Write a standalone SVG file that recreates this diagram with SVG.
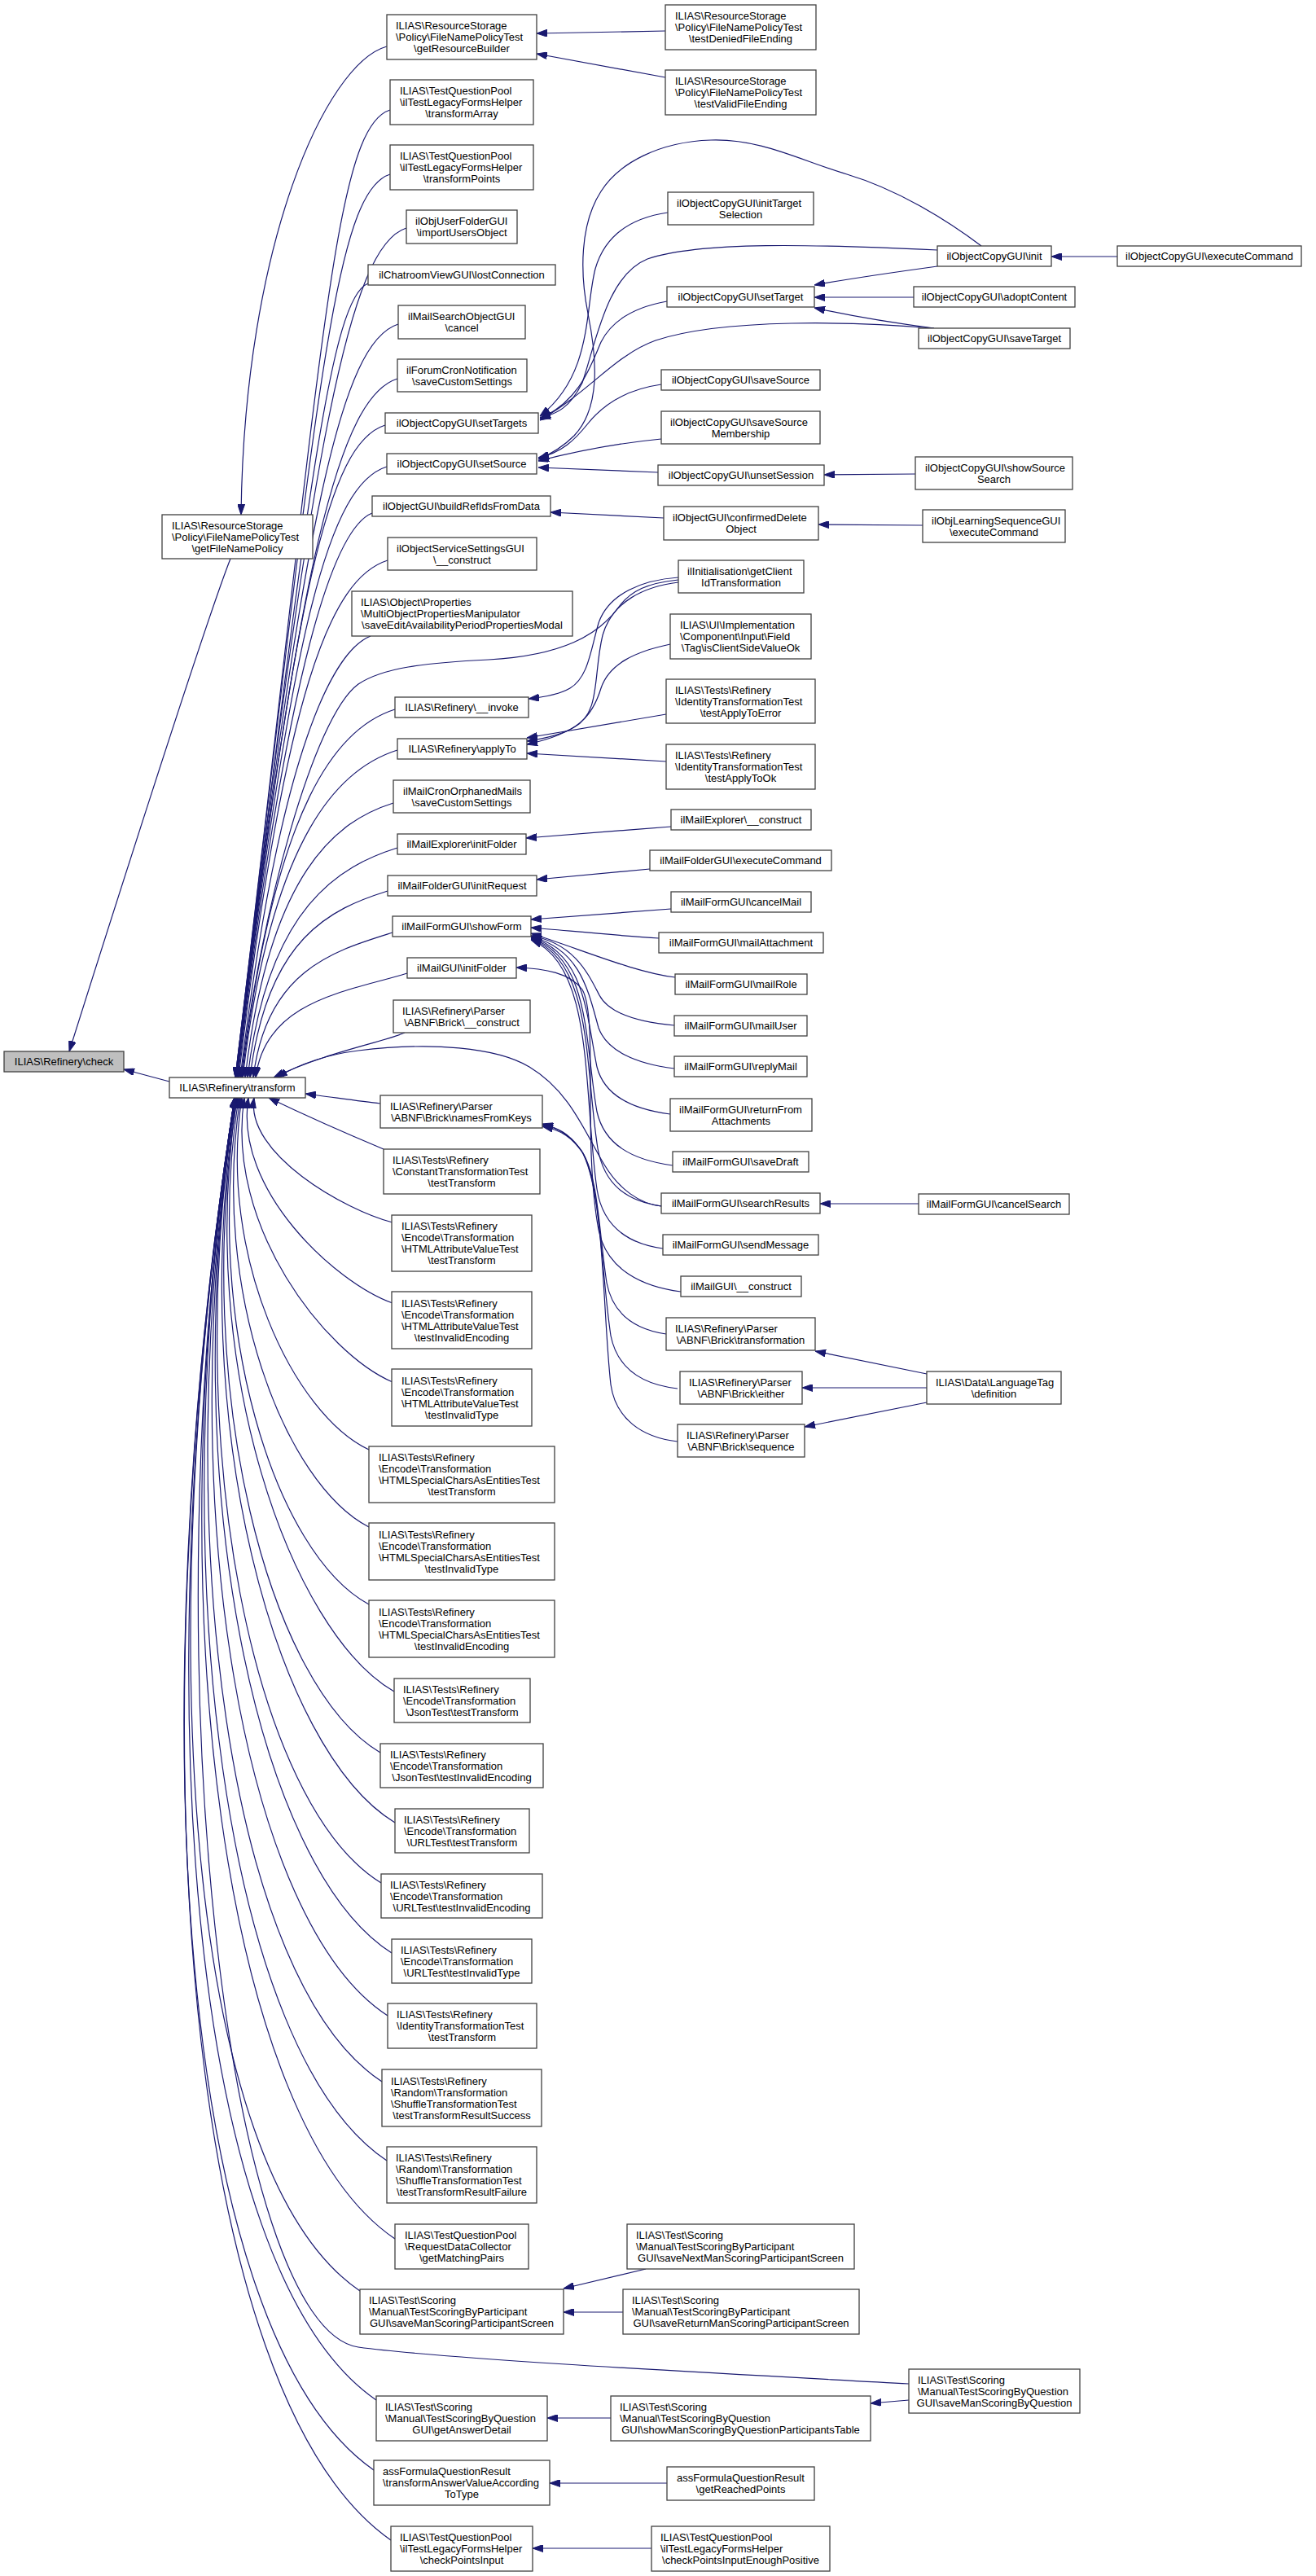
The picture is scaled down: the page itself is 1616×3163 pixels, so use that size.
<svg xmlns="http://www.w3.org/2000/svg" width="1616" height="3163" viewBox="0 0 1616 3163">
<style>
rect.n{fill:#fff;stroke:#404040;stroke-width:1.3}
rect.g{fill:#bfbfbf;stroke:#404040;stroke-width:1.3}
text{font-family:"Liberation Sans",Arial,Helvetica,sans-serif;font-size:13px;fill:#000}
text.c{text-anchor:middle}
#edges path{fill:none;stroke:#191970;stroke-width:1.2;marker-end:url(#a)}
</style>
<defs>
<marker id="a" viewBox="0 0 13 9" refX="13" refY="4.5" markerWidth="13" markerHeight="9" markerUnits="userSpaceOnUse" orient="auto"><path d="M0,0 L13,4.5 L0,9 z" fill="#191970" stroke="#191970" stroke-width="1"/></marker>
</defs>
<rect width="1616" height="3163" fill="#fff"/>
<g id="edges">
<path d="M283,686 C250,770 120,1180 85,1291"/>
<path d="M208,1328 L152,1313"/>
<path d="M475,57 C400,78 300,300 296,632"/>
<path d="M817,38 L659,41"/>
<path d="M817,95 L659,66"/>
<path d="M479,135 C409,157 396,432 289,1323"/>
<path d="M479,214 C409,236 389,491 289,1323"/>
<path d="M499,280 C429,302 383,541 289,1323"/>
<path d="M452,348 C407,366 378,592 290,1323"/>
<path d="M489,398 C419,420 373,629 290,1323"/>
<path d="M488,465 C418,487 367,680 290,1323"/>
<path d="M473,522 C403,544 363,722 291,1323"/>
<path d="M475,573 C405,595 359,761 291,1323"/>
<path d="M457,630 C412,648 354,803 292,1323"/>
<path d="M476,688 C406,710 350,847 293,1323"/>
<path d="M455,781 C410,799 344,917 295,1323"/>
<path d="M485,871 C415,893 338,984 297,1323"/>
<path d="M488,921 C418,943 334,1022 298,1323"/>
<path d="M483,986 C413,1008 331,1070 301,1323"/>
<path d="M488,1041 C418,1063 329,1112 304,1323"/>
<path d="M476,1094 C406,1116 328,1151 307,1323"/>
<path d="M482,1145 C412,1167 327,1190 311,1323"/>
<path d="M500,1195 C430,1217 326,1227 314,1323"/>
<path d="M497,1268 C470,1280 400,1292 336,1323"/>
<path d="M833,712 C795,716 775,725 760,745 C735,780 690,805 600,810 C520,814 470,820 440,840 C385,880 320,1120 296,1323"/>
<path d="M812,1481 C785,1478 760,1460 742,1430 C718,1390 700,1340 650,1310 C610,1286 530,1279 440,1290 C400,1295 365,1308 340,1323"/>
<path d="M467,1355 C440,1352 400,1346 375,1343"/>
<path d="M471,1411 C440,1398 380,1372 330,1348"/>
<path d="M482,1501 C424,1486 301,1417 312,1348"/>
<path d="M482,1600 C412,1575 287,1461 305,1348"/>
<path d="M482,1697 C400,1662 276,1505 300,1348"/>
<path d="M453,1780 C361,1737 267,1542 297,1348"/>
<path d="M453,1875 C350,1822 258,1585 295,1348"/>
<path d="M453,1970 C338,1908 249,1628 293,1348"/>
<path d="M484,2077 C357,2004 240,1676 291,1348"/>
<path d="M467,2152 C331,2072 235,1710 291,1348"/>
<path d="M485,2238 C338,2149 228,1748 290,1348"/>
<path d="M468,2312 C312,2216 222,1782 289,1348"/>
<path d="M481,2398 C315,2293 215,1820 289,1348"/>
<path d="M476,2475 C301,2362 210,1855 289,1348"/>
<path d="M469,2556 C284,2435 204,1892 289,1348"/>
<path d="M475,2653 C278,2522 197,1935 288,1348"/>
<path d="M485,2749 C277,2609 190,1978 288,1348"/>
<path d="M442,2813 C226,2666 185,2007 288,1348"/>
<path d="M1116,2927 C900,2915 560,2898 440,2882 C280,2858 181,2038 288,1348"/>
<path d="M462,2947 C230,2787 176,2068 288,1348"/>
<path d="M459,3033 C217,2864 170,2106 288,1348"/>
<path d="M480,3119 C227,2942 164,2145 288,1348"/>
<path d="M1205,302 C1160,268 1100,232 1040,214 C985,198 935,170 873,172 C810,174 760,200 738,235 C712,275 712,335 722,385 C733,440 738,500 705,535 C690,550 675,558 661,564"/>
<path d="M1151,307 C1000,300 860,296 795,318 C745,338 732,420 715,470 C700,500 685,508 663,513"/>
<path d="M820,261 C772,268 742,292 731,330 C718,380 728,460 663,511"/>
<path d="M819,370 C780,377 752,392 738,420 C725,450 712,492 663,514"/>
<path d="M1147,403 C1050,395 890,390 805,418 C755,436 725,480 663,516"/>
<path d="M812,472 C770,478 742,495 722,520 C706,540 690,556 661,562"/>
<path d="M812,539 C760,544 712,553 661,566"/>
<path d="M808,580 L661,574"/>
<path d="M1151,327 C1100,334 1050,341 1000,350"/>
<path d="M1122,365 L1000,365"/>
<path d="M1147,403 C1100,397 1050,389 1000,378"/>
<path d="M1372,315 L1291,315"/>
<path d="M1124,582 L1012,583"/>
<path d="M1133,645 L1005,644"/>
<path d="M815,636 L676,629"/>
<path d="M833,709 C790,712 748,728 735,765 C725,800 722,832 700,845 C688,852 668,856 649,858"/>
<path d="M833,715 C792,720 752,738 740,780 C728,830 738,875 705,893 C690,902 668,907 647,910"/>
<path d="M823,791 C780,800 748,815 738,845 C728,878 712,900 647,914"/>
<path d="M818,877 L647,906"/>
<path d="M818,935 L647,925"/>
<path d="M824,1015 L646,1029"/>
<path d="M798,1067 L659,1080"/>
<path d="M824,1116 L652,1129"/>
<path d="M809,1152 C760,1149 700,1143 652,1139"/>
<path d="M829,1200 C780,1194 720,1168 652,1146"/>
<path d="M828,1259 C785,1255 748,1245 736,1222 C722,1195 705,1158 652,1149"/>
<path d="M828,1312 C780,1306 745,1290 735,1262 C722,1215 712,1165 652,1150"/>
<path d="M823,1368 C775,1362 742,1345 733,1310 C720,1245 718,1170 652,1151"/>
<path d="M826,1431 C775,1424 742,1405 733,1365 C718,1280 725,1175 652,1152"/>
<path d="M812,1481 C770,1475 742,1455 734,1410 C718,1310 728,1180 652,1153"/>
<path d="M814,1533 C770,1527 740,1505 733,1460 C716,1340 730,1185 652,1154"/>
<path d="M836,1586 C790,1580 745,1560 735,1510 C715,1400 735,1250 715,1215 C700,1195 670,1189 634,1188"/>
<path d="M818,1638 C778,1632 752,1612 745,1575 C735,1510 735,1440 712,1410 C698,1392 686,1385 666,1380"/>
<path d="M832,1705 C788,1700 758,1680 750,1640 C738,1560 738,1455 714,1413 C700,1394 688,1386 666,1381"/>
<path d="M832,1770 C788,1765 756,1742 750,1700 C740,1610 742,1465 716,1416 C702,1396 690,1388 666,1383"/>
<path d="M1128,1478 L1007,1478"/>
<path d="M1138,1687 L1001,1659"/>
<path d="M1138,1704 L985,1704"/>
<path d="M1138,1722 L988,1752"/>
<path d="M793,2786 L692,2810"/>
<path d="M765,2839 L692,2839"/>
<path d="M1116,2947 L1069,2951"/>
<path d="M750,2969 L672,2969"/>
<path d="M819,3049 L675,3049"/>
<path d="M800,3129 L654,3129"/>
</g>
<g id="n_check"><rect class="g" x="5" y="1291" width="147" height="25"/><text class="c" x="78.5" y="1308">ILIAS\Refinery\check</text></g>
<g id="n_getFileNamePolicy"><rect class="n" x="199" y="632" width="185" height="54"/><text x="211" y="649.5">ILIAS\ResourceStorage</text><text x="211" y="663.5">\Policy\FileNamePolicyTest</text><text class="c" x="291.5" y="677.5">\getFileNamePolicy</text></g>
<g id="n_transform"><rect class="n" x="208" y="1323" width="167" height="25"/><text class="c" x="291.5" y="1340">ILIAS\Refinery\transform</text></g>
<g id="n_getResourceBuilder"><rect class="n" x="475" y="18" width="184" height="55"/><text x="486" y="36">ILIAS\ResourceStorage</text><text x="486" y="50">\Policy\FileNamePolicyTest</text><text class="c" x="567" y="64">\getResourceBuilder</text></g>
<g id="n_transformArray"><rect class="n" x="479" y="98" width="176" height="55"/><text x="491" y="116">ILIAS\TestQuestionPool</text><text x="491" y="130">\ilTestLegacyFormsHelper</text><text class="c" x="567" y="144">\transformArray</text></g>
<g id="n_transformPoints"><rect class="n" x="479" y="178" width="176" height="55"/><text x="491" y="196">ILIAS\TestQuestionPool</text><text x="491" y="210">\ilTestLegacyFormsHelper</text><text class="c" x="567" y="224">\transformPoints</text></g>
<g id="n_importUsersObject"><rect class="n" x="499" y="258" width="136" height="41"/><text x="510" y="276">ilObjUserFolderGUI</text><text class="c" x="567" y="290">\importUsersObject</text></g>
<g id="n_lostConnection"><rect class="n" x="452" y="325" width="230" height="25"/><text class="c" x="567" y="342">ilChatroomViewGUI\lostConnection</text></g>
<g id="n_mailSearchCancel"><rect class="n" x="489" y="375" width="156" height="41"/><text x="501" y="393">ilMailSearchObjectGUI</text><text class="c" x="567" y="407">\cancel</text></g>
<g id="n_forumCron"><rect class="n" x="488" y="441" width="159" height="40"/><text x="499" y="458.5">ilForumCronNotification</text><text class="c" x="567.5" y="472.5">\saveCustomSettings</text></g>
<g id="n_setTargets"><rect class="n" x="473" y="507" width="188" height="25"/><text class="c" x="567" y="524">ilObjectCopyGUI\setTargets</text></g>
<g id="n_setSource"><rect class="n" x="475" y="557" width="184" height="25"/><text class="c" x="567" y="574">ilObjectCopyGUI\setSource</text></g>
<g id="n_buildRefIds"><rect class="n" x="457" y="609" width="219" height="25"/><text class="c" x="566.5" y="626">ilObjectGUI\buildRefIdsFromData</text></g>
<g id="n_serviceSettings"><rect class="n" x="476" y="660" width="183" height="40"/><text x="487" y="677.5">ilObjectServiceSettingsGUI</text><text class="c" x="567.5" y="691.5">\__construct</text></g>
<g id="n_multiObject"><rect class="n" x="432" y="726" width="271" height="55"/><text x="443" y="744">ILIAS\Object\Properties</text><text x="443" y="758">\MultiObjectPropertiesManipulator</text><text class="c" x="567.5" y="772">\saveEditAvailabilityPeriodPropertiesModal</text></g>
<g id="n_invoke"><rect class="n" x="485" y="856" width="164" height="25"/><text class="c" x="567" y="873">ILIAS\Refinery\__invoke</text></g>
<g id="n_applyTo"><rect class="n" x="488" y="907" width="159" height="25"/><text class="c" x="567.5" y="924">ILIAS\Refinery\applyTo</text></g>
<g id="n_mailCron"><rect class="n" x="483" y="958" width="168" height="40"/><text x="495" y="975.5">ilMailCronOrphanedMails</text><text class="c" x="567" y="989.5">\saveCustomSettings</text></g>
<g id="n_mailExplorerInit"><rect class="n" x="488" y="1024" width="158" height="25"/><text class="c" x="567" y="1041">ilMailExplorer\initFolder</text></g>
<g id="n_initRequest"><rect class="n" x="476" y="1075" width="183" height="25"/><text class="c" x="567.5" y="1092">ilMailFolderGUI\initRequest</text></g>
<g id="n_showForm"><rect class="n" x="482" y="1125" width="170" height="25"/><text class="c" x="567" y="1142">ilMailFormGUI\showForm</text></g>
<g id="n_mailGUIInitFolder"><rect class="n" x="500" y="1176" width="134" height="25"/><text class="c" x="567" y="1193">ilMailGUI\initFolder</text></g>
<g id="n_brickConstruct"><rect class="n" x="483" y="1228" width="168" height="40"/><text x="494" y="1245.5">ILIAS\Refinery\Parser</text><text class="c" x="567" y="1259.5">\ABNF\Brick\__construct</text></g>
<g id="n_namesFromKeys"><rect class="n" x="467" y="1345" width="199" height="40"/><text x="479" y="1362.5">ILIAS\Refinery\Parser</text><text class="c" x="566.5" y="1376.5">\ABNF\Brick\namesFromKeys</text></g>
<g id="n_constTT"><rect class="n" x="471" y="1411" width="192" height="55"/><text x="482" y="1429">ILIAS\Tests\Refinery</text><text x="482" y="1443">\ConstantTransformationTest</text><text class="c" x="567" y="1457">\testTransform</text></g>
<g id="n_htmlAttrT"><rect class="n" x="481" y="1492" width="172" height="69"/><text x="493" y="1510">ILIAS\Tests\Refinery</text><text x="493" y="1524">\Encode\Transformation</text><text x="493" y="1538">\HTMLAttributeValueTest</text><text class="c" x="567" y="1552">\testTransform</text></g>
<g id="n_htmlAttrE"><rect class="n" x="481" y="1586" width="172" height="70"/><text x="493" y="1604.5">ILIAS\Tests\Refinery</text><text x="493" y="1618.5">\Encode\Transformation</text><text x="493" y="1632.5">\HTMLAttributeValueTest</text><text class="c" x="567" y="1646.5">\testInvalidEncoding</text></g>
<g id="n_htmlAttrTy"><rect class="n" x="481" y="1681" width="172" height="70"/><text x="493" y="1699.5">ILIAS\Tests\Refinery</text><text x="493" y="1713.5">\Encode\Transformation</text><text x="493" y="1727.5">\HTMLAttributeValueTest</text><text class="c" x="567" y="1741.5">\testInvalidType</text></g>
<g id="n_htmlSpecT"><rect class="n" x="453" y="1776" width="228" height="69"/><text x="465" y="1794">ILIAS\Tests\Refinery</text><text x="465" y="1808">\Encode\Transformation</text><text x="465" y="1822">\HTMLSpecialCharsAsEntitiesTest</text><text class="c" x="567" y="1836">\testTransform</text></g>
<g id="n_htmlSpecTy"><rect class="n" x="453" y="1870" width="228" height="70"/><text x="465" y="1888.5">ILIAS\Tests\Refinery</text><text x="465" y="1902.5">\Encode\Transformation</text><text x="465" y="1916.5">\HTMLSpecialCharsAsEntitiesTest</text><text class="c" x="567" y="1930.5">\testInvalidType</text></g>
<g id="n_htmlSpecE"><rect class="n" x="453" y="1965" width="228" height="70"/><text x="465" y="1983.5">ILIAS\Tests\Refinery</text><text x="465" y="1997.5">\Encode\Transformation</text><text x="465" y="2011.5">\HTMLSpecialCharsAsEntitiesTest</text><text class="c" x="567" y="2025.5">\testInvalidEncoding</text></g>
<g id="n_jsonT"><rect class="n" x="484" y="2061" width="167" height="54"/><text x="495" y="2078.5">ILIAS\Tests\Refinery</text><text x="495" y="2092.5">\Encode\Transformation</text><text class="c" x="567.5" y="2106.5">\JsonTest\testTransform</text></g>
<g id="n_jsonE"><rect class="n" x="467" y="2141" width="200" height="54"/><text x="479" y="2158.5">ILIAS\Tests\Refinery</text><text x="479" y="2172.5">\Encode\Transformation</text><text class="c" x="567" y="2186.5">\JsonTest\testInvalidEncoding</text></g>
<g id="n_urlT"><rect class="n" x="485" y="2221" width="165" height="54"/><text x="496" y="2238.5">ILIAS\Tests\Refinery</text><text x="496" y="2252.5">\Encode\Transformation</text><text class="c" x="567.5" y="2266.5">\URLTest\testTransform</text></g>
<g id="n_urlE"><rect class="n" x="468" y="2301" width="198" height="54"/><text x="479" y="2318.5">ILIAS\Tests\Refinery</text><text x="479" y="2332.5">\Encode\Transformation</text><text class="c" x="567" y="2346.5">\URLTest\testInvalidEncoding</text></g>
<g id="n_urlTy"><rect class="n" x="481" y="2381" width="172" height="54"/><text x="492" y="2398.5">ILIAS\Tests\Refinery</text><text x="492" y="2412.5">\Encode\Transformation</text><text class="c" x="567" y="2426.5">\URLTest\testInvalidType</text></g>
<g id="n_identT"><rect class="n" x="476" y="2460" width="183" height="55"/><text x="487" y="2478">ILIAS\Tests\Refinery</text><text x="487" y="2492">\IdentityTransformationTest</text><text class="c" x="567.5" y="2506">\testTransform</text></g>
<g id="n_shuffleS"><rect class="n" x="469" y="2541" width="196" height="70"/><text x="480" y="2559.5">ILIAS\Tests\Refinery</text><text x="480" y="2573.5">\Random\Transformation</text><text x="480" y="2587.5">\ShuffleTransformationTest</text><text class="c" x="567" y="2601.5">\testTransformResultSuccess</text></g>
<g id="n_shuffleF"><rect class="n" x="475" y="2636" width="184" height="69"/><text x="486" y="2654">ILIAS\Tests\Refinery</text><text x="486" y="2668">\Random\Transformation</text><text x="486" y="2682">\ShuffleTransformationTest</text><text class="c" x="567" y="2696">\testTransformResultFailure</text></g>
<g id="n_matchingPairs"><rect class="n" x="485" y="2731" width="164" height="55"/><text x="497" y="2749">ILIAS\TestQuestionPool</text><text x="497" y="2763">\RequestDataCollector</text><text class="c" x="567" y="2777">\getMatchingPairs</text></g>
<g id="n_saveManPart"><rect class="n" x="442" y="2811" width="250" height="55"/><text x="453" y="2829">ILIAS\Test\Scoring</text><text x="453" y="2843">\Manual\TestScoringByParticipant</text><text class="c" x="567" y="2857">GUI\saveManScoringParticipantScreen</text></g>
<g id="n_answerDetail"><rect class="n" x="462" y="2942" width="210" height="55"/><text x="473" y="2960">ILIAS\Test\Scoring</text><text x="473" y="2974">\Manual\TestScoringByQuestion</text><text class="c" x="567" y="2988">GUI\getAnswerDetail</text></g>
<g id="n_formulaTransform"><rect class="n" x="459" y="3021" width="216" height="55"/><text x="470" y="3039">assFormulaQuestionResult</text><text x="470" y="3053">\transformAnswerValueAccording</text><text class="c" x="567" y="3067">ToType</text></g>
<g id="n_checkPointsInput"><rect class="n" x="480" y="3102" width="174" height="55"/><text x="491" y="3120">ILIAS\TestQuestionPool</text><text x="491" y="3134">\ilTestLegacyFormsHelper</text><text class="c" x="567" y="3148">\checkPointsInput</text></g>
<g id="n_testDenied"><rect class="n" x="817" y="6" width="185" height="55"/><text x="829" y="24">ILIAS\ResourceStorage</text><text x="829" y="38">\Policy\FileNamePolicyTest</text><text class="c" x="909.5" y="52">\testDeniedFileEnding</text></g>
<g id="n_testValid"><rect class="n" x="817" y="86" width="185" height="55"/><text x="829" y="104">ILIAS\ResourceStorage</text><text x="829" y="118">\Policy\FileNamePolicyTest</text><text class="c" x="909.5" y="132">\testValidFileEnding</text></g>
<g id="n_initTargetSel"><rect class="n" x="820" y="236" width="179" height="40"/><text x="831" y="253.5">ilObjectCopyGUI\initTarget</text><text class="c" x="909.5" y="267.5">Selection</text></g>
<g id="n_setTarget"><rect class="n" x="819" y="352" width="181" height="25"/><text class="c" x="909.5" y="369">ilObjectCopyGUI\setTarget</text></g>
<g id="n_saveSource"><rect class="n" x="812" y="454" width="195" height="25"/><text class="c" x="909.5" y="471">ilObjectCopyGUI\saveSource</text></g>
<g id="n_saveSourceMem"><rect class="n" x="812" y="505" width="195" height="40"/><text x="823" y="522.5">ilObjectCopyGUI\saveSource</text><text class="c" x="909.5" y="536.5">Membership</text></g>
<g id="n_unsetSession"><rect class="n" x="808" y="571" width="204" height="25"/><text class="c" x="910" y="588">ilObjectCopyGUI\unsetSession</text></g>
<g id="n_confirmedDelete"><rect class="n" x="815" y="622" width="190" height="41"/><text x="826" y="640">ilObjectGUI\confirmedDelete</text><text class="c" x="910" y="654">Object</text></g>
<g id="n_getClientId"><rect class="n" x="833" y="688" width="154" height="40"/><text x="844" y="705.5">ilInitialisation\getClient</text><text class="c" x="910" y="719.5">IdTransformation</text></g>
<g id="n_isClientSide"><rect class="n" x="823" y="754" width="173" height="55"/><text x="835" y="772">ILIAS\UI\Implementation</text><text x="835" y="786">\Component\Input\Field</text><text class="c" x="909.5" y="800">\Tag\isClientSideValueOk</text></g>
<g id="n_applyToError"><rect class="n" x="818" y="834" width="183" height="54"/><text x="829" y="851.5">ILIAS\Tests\Refinery</text><text x="829" y="865.5">\IdentityTransformationTest</text><text class="c" x="909.5" y="879.5">\testApplyToError</text></g>
<g id="n_applyToOk"><rect class="n" x="818" y="914" width="183" height="55"/><text x="829" y="932">ILIAS\Tests\Refinery</text><text x="829" y="946">\IdentityTransformationTest</text><text class="c" x="909.5" y="960">\testApplyToOk</text></g>
<g id="n_mailExplorerConstruct"><rect class="n" x="824" y="994" width="172" height="25"/><text class="c" x="910" y="1011">ilMailExplorer\__construct</text></g>
<g id="n_mailFolderExec"><rect class="n" x="798" y="1044" width="223" height="25"/><text class="c" x="909.5" y="1061">ilMailFolderGUI\executeCommand</text></g>
<g id="n_cancelMail"><rect class="n" x="824" y="1095" width="172" height="25"/><text class="c" x="910" y="1112">ilMailFormGUI\cancelMail</text></g>
<g id="n_mailAttachment"><rect class="n" x="809" y="1145" width="202" height="25"/><text class="c" x="910" y="1162">ilMailFormGUI\mailAttachment</text></g>
<g id="n_mailRole"><rect class="n" x="829" y="1196" width="162" height="25"/><text class="c" x="910" y="1213">ilMailFormGUI\mailRole</text></g>
<g id="n_mailUser"><rect class="n" x="828" y="1247" width="163" height="25"/><text class="c" x="909.5" y="1264">ilMailFormGUI\mailUser</text></g>
<g id="n_replyMail"><rect class="n" x="828" y="1297" width="163" height="25"/><text class="c" x="909.5" y="1314">ilMailFormGUI\replyMail</text></g>
<g id="n_returnFromAtt"><rect class="n" x="823" y="1349" width="174" height="40"/><text x="834" y="1366.5">ilMailFormGUI\returnFrom</text><text class="c" x="910" y="1380.5">Attachments</text></g>
<g id="n_saveDraft"><rect class="n" x="826" y="1414" width="167" height="25"/><text class="c" x="909.5" y="1431">ilMailFormGUI\saveDraft</text></g>
<g id="n_searchResults"><rect class="n" x="812" y="1465" width="195" height="25"/><text class="c" x="909.5" y="1482">ilMailFormGUI\searchResults</text></g>
<g id="n_sendMessage"><rect class="n" x="814" y="1516" width="191" height="25"/><text class="c" x="909.5" y="1533">ilMailFormGUI\sendMessage</text></g>
<g id="n_mailGUIConstruct"><rect class="n" x="836" y="1567" width="148" height="25"/><text class="c" x="910" y="1584">ilMailGUI\__construct</text></g>
<g id="n_brickTransformation"><rect class="n" x="818" y="1618" width="183" height="40"/><text x="829" y="1635.5">ILIAS\Refinery\Parser</text><text class="c" x="909.5" y="1649.5">\ABNF\Brick\transformation</text></g>
<g id="n_brickEither"><rect class="n" x="835" y="1684" width="150" height="40"/><text x="846" y="1701.5">ILIAS\Refinery\Parser</text><text class="c" x="910" y="1715.5">\ABNF\Brick\either</text></g>
<g id="n_brickSequence"><rect class="n" x="832" y="1749" width="156" height="40"/><text x="843" y="1766.5">ILIAS\Refinery\Parser</text><text class="c" x="910" y="1780.5">\ABNF\Brick\sequence</text></g>
<g id="n_saveNextMan"><rect class="n" x="770" y="2731" width="279" height="55"/><text x="781" y="2749">ILIAS\Test\Scoring</text><text x="781" y="2763">\Manual\TestScoringByParticipant</text><text class="c" x="909.5" y="2777">GUI\saveNextManScoringParticipantScreen</text></g>
<g id="n_saveReturnMan"><rect class="n" x="765" y="2811" width="290" height="55"/><text x="776" y="2829">ILIAS\Test\Scoring</text><text x="776" y="2843">\Manual\TestScoringByParticipant</text><text class="c" x="910" y="2857">GUI\saveReturnManScoringParticipantScreen</text></g>
<g id="n_showManTable"><rect class="n" x="750" y="2942" width="319" height="55"/><text x="761" y="2960">ILIAS\Test\Scoring</text><text x="761" y="2974">\Manual\TestScoringByQuestion</text><text class="c" x="909.5" y="2988">GUI\showManScoringByQuestionParticipantsTable</text></g>
<g id="n_reachedPoints"><rect class="n" x="819" y="3029" width="181" height="41"/><text x="831" y="3047">assFormulaQuestionResult</text><text class="c" x="909.5" y="3061">\getReachedPoints</text></g>
<g id="n_enoughPositive"><rect class="n" x="800" y="3102" width="219" height="55"/><text x="811" y="3120">ILIAS\TestQuestionPool</text><text x="811" y="3134">\ilTestLegacyFormsHelper</text><text class="c" x="909.5" y="3148">\checkPointsInputEnoughPositive</text></g>
<g id="n_init"><rect class="n" x="1151" y="302" width="140" height="25"/><text class="c" x="1221" y="319">ilObjectCopyGUI\init</text></g>
<g id="n_adoptContent"><rect class="n" x="1122" y="352" width="198" height="25"/><text class="c" x="1221" y="369">ilObjectCopyGUI\adoptContent</text></g>
<g id="n_saveTarget"><rect class="n" x="1128" y="403" width="186" height="25"/><text class="c" x="1221" y="420">ilObjectCopyGUI\saveTarget</text></g>
<g id="n_showSourceSearch"><rect class="n" x="1124" y="561" width="193" height="40"/><text x="1136" y="578.5">ilObjectCopyGUI\showSource</text><text class="c" x="1220.5" y="592.5">Search</text></g>
<g id="n_lsExec"><rect class="n" x="1133" y="626" width="175" height="40"/><text x="1144" y="643.5">ilObjLearningSequenceGUI</text><text class="c" x="1220.5" y="657.5">\executeCommand</text></g>
<g id="n_cancelSearch"><rect class="n" x="1128" y="1466" width="185" height="25"/><text class="c" x="1220.5" y="1483">ilMailFormGUI\cancelSearch</text></g>
<g id="n_langTagDef"><rect class="n" x="1138" y="1684" width="165" height="40"/><text x="1149" y="1701.5">ILIAS\Data\LanguageTag</text><text class="c" x="1220.5" y="1715.5">\definition</text></g>
<g id="n_saveManByQ"><rect class="n" x="1116" y="2909" width="210" height="54"/><text x="1127" y="2926.5">ILIAS\Test\Scoring</text><text x="1127" y="2940.5">\Manual\TestScoringByQuestion</text><text class="c" x="1221" y="2954.5">GUI\saveManScoringByQuestion</text></g>
<g id="n_execCommand"><rect class="n" x="1372" y="302" width="226" height="25"/><text class="c" x="1485" y="319">ilObjectCopyGUI\executeCommand</text></g>
</svg>
